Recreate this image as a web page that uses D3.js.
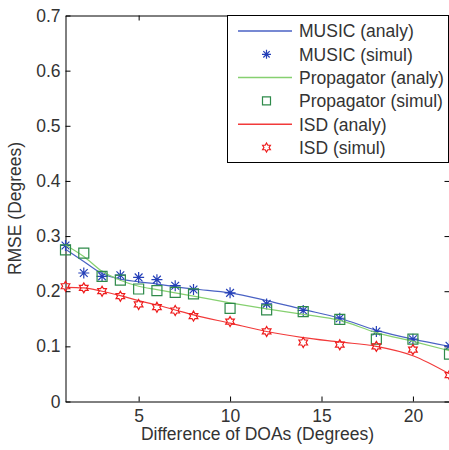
<!DOCTYPE html>
<html lang="en">
<head>
<meta charset="UTF-8">
<title>RMSE vs difference of DOAs</title>
<script src="https://d3js.org/d3.v7.min.js"></script>
<style>
    body { margin: 0; background: #fff; }
    text { font-family: "Liberation Sans", Arial, sans-serif; fill: #333; }
</style>
</head>
<body>
<script>
    // values
    const doa = [1, 2, 3, 4, 5, 6, 7, 8, 10, 12, 14, 16, 18, 20, 22];
    const musicAnaly = [0.276, 0.254, 0.232, 0.222, 0.217, 0.213, 0.208, 0.204, 0.197, 0.183, 0.167, 0.151, 0.129, 0.113, 0.100];
    const musicSimul = [0.283, 0.233, 0.227, 0.229, 0.225, 0.221, 0.210, 0.203, 0.197, 0.177, 0.165, 0.151, 0.127, 0.113, 0.101];
    const propAnaly = [0.284, 0.263, 0.236, 0.220, 0.209, 0.203, 0.197, 0.191, 0.179, 0.168, 0.158, 0.147, 0.125, 0.109, 0.092];
    const propSimul = [0.275, 0.269, 0.227, 0.220, 0.204, 0.201, 0.198, 0.195, 0.169, 0.166, 0.163, 0.149, 0.113, 0.113, 0.086];
    const isdAnaly = [0.207, 0.206, 0.200, 0.192, 0.183, 0.175, 0.166, 0.157, 0.142, 0.127, 0.116, 0.108, 0.100, 0.083, 0.050];
    const isdSimul = [0.209, 0.206, 0.200, 0.191, 0.176, 0.171, 0.165, 0.155, 0.145, 0.127, 0.107, 0.103, 0.100, 0.094, 0.048];

    const xTicks = [5, 10, 15, 20];
    const yTicks = [0, 0.1, 0.2, 0.3, 0.4, 0.5, 0.6, 0.7];
    const legendLabels = ["MUSIC (analy)", "MUSIC (simul)", "Propagator (analy)", "Propagator (simul)", "ISD (analy)", "ISD (simul)"];

    const w = 449, h = 450;
    const margin = { top: 15.5, right: -0.5, bottom: 48.5, left: 65.5 };
    const fs = 17.5;

    const svg = d3.select("body").append("svg").attr("width", w).attr("height", h);

    const x = d3.scaleLinear().domain([1, 22]).range([margin.left, w - margin.right]);
    const y = d3.scaleLinear().domain([0, 0.7]).range([h - margin.bottom, margin.top]);

    // axes (ticks point inward, box on)
    const fmt = d => d === 0 ? "0" : d3.format(".1f")(d);
    const tl = 5;
    svg.append("g").attr("transform", `translate(0,${y(0)})`)
        .call(d3.axisBottom(x).tickValues(xTicks).tickSizeInner(-tl).tickSizeOuter(0).tickPadding(8))
        .call(g => g.selectAll("text").attr("font-size", fs).attr("dy", "0.71em"));
    svg.append("g").attr("transform", `translate(0,${y(0.7)})`)
        .call(d3.axisTop(x).tickValues(xTicks).tickSizeInner(-tl).tickSizeOuter(0).tickFormat(""));
    svg.append("g").attr("transform", `translate(${x(1)},0)`)
        .call(d3.axisLeft(y).tickValues(yTicks).tickSizeInner(-tl).tickSizeOuter(0).tickPadding(5).tickFormat(fmt))
        .call(g => g.selectAll("text").attr("font-size", fs));
    svg.append("g").attr("transform", `translate(${x(22)},0)`)
        .call(d3.axisRight(y).tickValues(yTicks).tickSizeInner(-tl).tickSizeOuter(0).tickFormat(""));
    svg.selectAll(".domain").attr("stroke", "#000");
    svg.selectAll(".tick line").attr("stroke", "#000");

    // axis labels
    svg.append("text").attr("x", (x(1) + x(22)) / 2).attr("y", 440)
        .attr("text-anchor", "middle").attr("font-size", fs).text("Difference of DOAs (Degrees)");
    svg.append("text").attr("transform", `translate(21,${(y(0) + y(0.7)) / 2}) rotate(-90)`)
        .attr("text-anchor", "middle").attr("font-size", fs).text("RMSE (Degrees)");

    // marker shapes
    function asterisk(r) {
        const d = r * Math.SQRT1_2;
        return `M${-r},0L${r},0M0,${-r}L0,${r}M${-d},${-d}L${d},${d}M${-d},${d}L${d},${-d}`;
    }
    function square(r) {
        return `M${-r},${-r}H${r}V${r}H${-r}Z`;
    }
    function hexagram(r) {
        const pts = [];
        for (let k = 0; k < 12; k++) {
            const a = -Math.PI / 2 + k * Math.PI / 6;
            const rr = k % 2 === 0 ? r : r / Math.sqrt(3);
            pts.push([rr * Math.cos(a), rr * Math.sin(a)]);
        }
        return "M" + pts.map(p => p.join(",")).join("L") + "Z";
    }

    const series = [
        { analy: musicAnaly, simul: musicSimul, line: "#4a62c4", mark: "#2540b8", shape: asterisk, r: 5.5, lr: 4.5 },
        { analy: propAnaly, simul: propSimul, line: "#86d070", mark: "#2e8a4a", shape: square, r: 5, lr: 4 },
        { analy: isdAnaly, simul: isdSimul, line: "#f23a3a", mark: "#ee1c1c", shape: hexagram, r: 5, lr: 4.5 }
    ];

    const line = d3.line().x(d => x(d[0])).y(d => y(d[1])).curve(d3.curveMonotoneX);

    series.forEach(s => {
        svg.append("path")
            .datum(doa.map((d, i) => [d, s.analy[i]]))
            .attr("d", line).attr("fill", "none").attr("stroke", s.line).attr("stroke-width", 1.2);
        svg.append("g").selectAll("path")
            .data(doa.map((d, i) => [d, s.simul[i]]))
            .join("path")
            .attr("transform", d => `translate(${x(d[0])},${y(d[1])})`)
            .attr("d", s.shape(s.r))
            .attr("fill", "none").attr("stroke", s.mark).attr("stroke-width", 1.2);
    });

    // legend
    const lg = svg.append("g");
    lg.append("rect").attr("x", 227.5).attr("y", 15.5).attr("width", w - 0.5 - 227.5).attr("height", 147)
        .attr("fill", "#fff").attr("stroke", "#000");
    legendLabels.forEach((lab, i) => {
        const s = series[Math.floor(i / 2)];
        const cy = 31 + i * 23.3;
        if (i % 2 === 0) {
            lg.append("line").attr("x1", 238).attr("x2", 292).attr("y1", cy).attr("y2", cy)
                .attr("stroke", s.line).attr("stroke-width", 1.5);
        } else {
            lg.append("path").attr("transform", `translate(266.5,${cy})`).attr("d", s.shape(s.lr))
                .attr("fill", "none").attr("stroke", s.mark).attr("stroke-width", 1.2);
        }
        lg.append("text").attr("x", 299).attr("y", cy).attr("dy", "0.36em")
            .attr("font-size", fs).text(lab);
    });
</script>
</body>
</html>
